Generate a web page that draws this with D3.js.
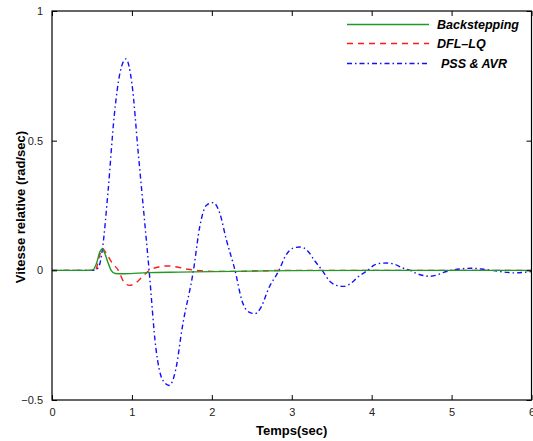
<!DOCTYPE html>
<html>
<head>
<meta charset="utf-8">
<script src="https://cdn.jsdelivr.net/npm/d3@7"></script>
<style>
  body { margin: 0; background: #fff; }
  svg { display: block; }
  text { font-family: "Liberation Sans", Arial, sans-serif; }
</style>
</head>
<body>
<svg id="chart" width="533" height="441"></svg>
<script>
// ---- data ----
const xTicks = [0, 1, 2, 3, 4, 5, 6];
const yTicks = [-0.5, 0, 0.5, 1];
const yTickLabels = ["\u22120.5", "0", "0.5", "1"];
const seriesNames = ["Backstepping", "DFL\u2013LQ", "PSS & AVR"];

// Backstepping (green)
const tBack = [0, 0.48, 0.52, 0.56, 0.6, 0.63, 0.66, 0.7, 0.74, 0.79, 0.9, 1.2, 1.6, 2.0, 2.5, 3.0, 4.0, 6.0];
const vBack = [0, 0, 0.004, 0.03, 0.072, 0.082, 0.066, 0.03, 0.0, -0.012, -0.013, -0.009, -0.007, -0.005, -0.003, -0.001, 0, 0];

// DFL-LQ (red)
const tDfl = [0, 0.5, 0.55, 0.59, 0.63, 0.67, 0.75, 0.83, 0.9, 0.97, 1.05, 1.13, 1.22, 1.32, 1.45, 1.58, 1.7, 1.8, 2.0, 2.3, 2.6, 3.0, 6.0];
const vDfl = [0, 0, 0.005, 0.05, 0.085, 0.07, 0.03, 0.0, -0.045, -0.058, -0.048, -0.025, 0.0, 0.012, 0.017, 0.012, 0.004, 0.0, -0.004, -0.004, -0.002, 0.0, 0];

// PSS & AVR (blue)
const tPss = [0, 0.52, 0.58, 0.63, 0.7, 0.78, 0.85, 0.925, 1.0, 1.08, 1.215, 1.3, 1.38, 1.467, 1.55, 1.63, 1.77, 1.85, 1.93, 2.017, 2.1, 2.18, 2.29, 2.38, 2.46, 2.54, 2.62, 2.71, 2.84, 2.93, 3.01, 3.1, 3.2, 3.28, 3.38, 3.47, 3.56, 3.65, 3.74, 3.83, 3.95, 4.03, 4.11, 4.2, 4.3, 4.38, 4.48, 4.56, 4.65, 4.73, 4.82, 4.9, 5.0, 5.1, 5.25, 5.4, 5.55, 5.7, 5.8, 5.9, 6.0];
const vPss = [0, 0, 0.01, 0.08, 0.3, 0.6, 0.76, 0.815, 0.72, 0.45, 0.0, -0.3, -0.42, -0.444, -0.38, -0.22, 0.0, 0.17, 0.25, 0.261, 0.22, 0.12, 0.0, -0.12, -0.16, -0.167, -0.14, -0.07, 0.0, 0.06, 0.085, 0.09, 0.075, 0.04, 0.0, -0.04, -0.058, -0.062, -0.05, -0.025, 0.0, 0.02, 0.027, 0.028, 0.022, 0.01, 0.0, -0.012, -0.02, -0.023, -0.018, -0.008, 0.0, 0.005, 0.008, 0.004, -0.002, -0.008, -0.01, -0.008, -0.005];

// ---- drawing ----
const svg = d3.select("#chart");
const L = 52, R = 531.5, T = 11, B = 400;
const x = d3.scaleLinear().domain([0, 6]).range([L, R]);
const y = d3.scaleLinear().domain([-0.5, 1]).range([B, T]);

svg.append("defs").append("clipPath").attr("id", "clip")
  .append("rect").attr("x", L).attr("y", T).attr("width", R - L).attr("height", B - T);

const line = d3.line().x(d => x(d[0])).y(d => y(d[1])).curve(d3.curveMonotoneX);
const plot = svg.append("g").attr("clip-path", "url(#clip)");

const series = [
  { t: tBack, v: vBack, color: "#1f9a26", dash: null },
  { t: tDfl, v: vDfl, color: "#ff1a1a", dash: "6,5" },
  { t: tPss, v: vPss, color: "#1010ff", dash: "5,3,1.5,3" }
];
const order = [2, 1, 0];
order.forEach(i => {
  const s = series[i];
  plot.append("path")
    .datum(s.t.map((t, k) => [t, s.v[k]]))
    .attr("fill", "none")
    .attr("stroke", s.color)
    .attr("stroke-width", 1.4)
    .attr("stroke-dasharray", s.dash)
    .attr("d", line);
});

// axes with inward ticks on all sides
const tickLen = 5;
const fmtY = d => yTickLabels[yTicks.indexOf(d)];
svg.append("g").attr("transform", `translate(0,${B})`)
  .call(d3.axisBottom(x).tickValues(xTicks).tickSizeInner(-tickLen).tickSizeOuter(0).tickPadding(8).tickFormat(d3.format("d")))
  .call(g => g.select(".domain").remove());
svg.append("g").attr("transform", `translate(0,${T})`)
  .call(d3.axisTop(x).tickValues(xTicks).tickSizeInner(-tickLen).tickSizeOuter(0).tickFormat(""))
  .call(g => g.select(".domain").remove());
svg.append("g").attr("transform", `translate(${L},0)`)
  .call(d3.axisLeft(y).tickValues(yTicks).tickSizeInner(-tickLen).tickSizeOuter(0).tickPadding(9).tickFormat(fmtY))
  .call(g => g.select(".domain").remove());
svg.append("g").attr("transform", `translate(${R},0)`)
  .call(d3.axisRight(y).tickValues(yTicks).tickSizeInner(-tickLen).tickSizeOuter(0).tickFormat(""))
  .call(g => g.select(".domain").remove());

svg.selectAll(".tick text").attr("font-size", 11).attr("fill", "#222")
  .attr("font-family", "Liberation Sans, Arial, sans-serif");
svg.selectAll(".tick line").attr("stroke", "#000");

// frame
svg.append("rect").attr("x", L).attr("y", T).attr("width", R - L).attr("height", B - T)
  .attr("fill", "none").attr("stroke", "#000").attr("stroke-width", 1.2);

// axis titles
svg.append("text").attr("x", (L + R) / 2).attr("y", 435).attr("text-anchor", "middle")
  .attr("font-size", 13).attr("font-weight", "bold").text("Temps(sec)");
svg.append("text").attr("transform", "translate(25,207) rotate(-90)").attr("text-anchor", "middle")
  .attr("font-size", 13).attr("font-weight", "bold").text("Vitesse relative (rad/sec)");

// legend
const legY = [24.5, 43.5, 63.5];
const legTextX = [437, 437, 441];
series.forEach((s, i) => {
  svg.append("line").attr("x1", 347).attr("x2", 429).attr("y1", legY[i]).attr("y2", legY[i])
    .attr("stroke", s.color).attr("stroke-width", 1.5).attr("stroke-dasharray", s.dash);
  svg.append("text").attr("x", legTextX[i]).attr("y", legY[i] + 4.5)
    .attr("font-size", 12.5).attr("font-weight", "bold").attr("font-style", "italic")
    .text(seriesNames[i]);
});
</script>
</body>
</html>
